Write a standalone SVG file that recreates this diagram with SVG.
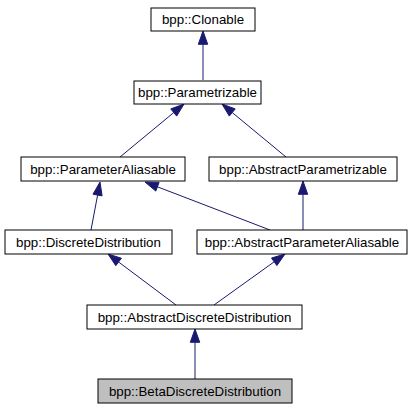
<svg xmlns="http://www.w3.org/2000/svg" width="415" height="411" viewBox="0 0 415 411">
<style>
.box{fill:#ffffff;stroke:#000000;stroke-width:1}
.cur{fill:#bfbfbf;stroke:#000000;stroke-width:1}
.lbl{font-family:"Liberation Sans",Arial,sans-serif;font-size:13.3px;fill:#000000;text-anchor:middle}
.edge{stroke:#191970;stroke-width:1;fill:none}
.head{fill:#191970;stroke:#191970;stroke-width:1}
</style>
<rect width="415" height="411" fill="#ffffff"/>
<g id="connectors">
<line class="edge" x1="203" y1="80" x2="203" y2="44.3"/>
<polygon class="head" points="203,31 198.3,44.3 207.7,44.3"/>
<line class="edge" x1="120" y1="157" x2="173.8" y2="112.5"/>
<polygon class="head" points="184,104 176.7,116.1 170.8,108.9"/>
<line class="edge" x1="286" y1="157" x2="232.2" y2="112.5"/>
<polygon class="head" points="222,104 235.2,108.9 229.3,116.1"/>
<line class="edge" x1="91" y1="230" x2="97.6" y2="195.1"/>
<polygon class="head" points="100,182 102.1,195.9 93,194.2"/>
<line class="edge" x1="270" y1="230" x2="157.4" y2="186.8"/>
<polygon class="head" points="145,182 159.1,182.4 155.8,191.1"/>
<line class="edge" x1="303" y1="230" x2="303" y2="194.3"/>
<polygon class="head" points="303,181 298.3,194.3 307.7,194.3"/>
<line class="edge" x1="176" y1="305" x2="118.6" y2="262"/>
<polygon class="head" points="108,254 121.4,258.2 115.8,265.7"/>
<line class="edge" x1="214" y1="305" x2="274.2" y2="261.8"/>
<polygon class="head" points="285,254 276.9,265.6 271.5,258"/>
<line class="edge" x1="195" y1="379" x2="195" y2="342.3"/>
<polygon class="head" points="195,329 190.3,342.3 199.7,342.3"/>
</g>
<g id="node-clonable">
<rect class="box" x="151" y="8" width="104" height="23"/>
<text class="lbl" x="203" y="24">bpp::Clonable</text>
</g>
<g id="node-parametrizable">
<rect class="box" x="134" y="81" width="127" height="23"/>
<text class="lbl" x="197.5" y="97">bpp::Parametrizable</text>
</g>
<g id="node-parameteraliasable">
<rect class="box" x="21" y="157" width="164" height="24"/>
<text class="lbl" x="103" y="173.5">bpp::ParameterAliasable</text>
</g>
<g id="node-abstractparametrizable">
<rect class="box" x="209" y="157" width="188" height="24"/>
<text class="lbl" x="303" y="173.5">bpp::AbstractParametrizable</text>
</g>
<g id="node-discretedistribution">
<rect class="box" x="5" y="230" width="167" height="24"/>
<text class="lbl" x="88.5" y="246.5">bpp::DiscreteDistribution</text>
</g>
<g id="node-abstractparameteraliasable">
<rect class="box" x="197" y="230" width="210" height="24"/>
<text class="lbl" x="302" y="246.5">bpp::AbstractParameterAliasable</text>
</g>
<g id="node-abstractdiscretedistribution">
<rect class="box" x="87" y="305" width="215" height="24"/>
<text class="lbl" x="194.5" y="321.5">bpp::AbstractDiscreteDistribution</text>
</g>
<g id="node-betadiscretedistribution">
<rect class="cur" x="98" y="379" width="194" height="24"/>
<text class="lbl" x="195" y="395.5">bpp::BetaDiscreteDistribution</text>
</g>
</svg>
